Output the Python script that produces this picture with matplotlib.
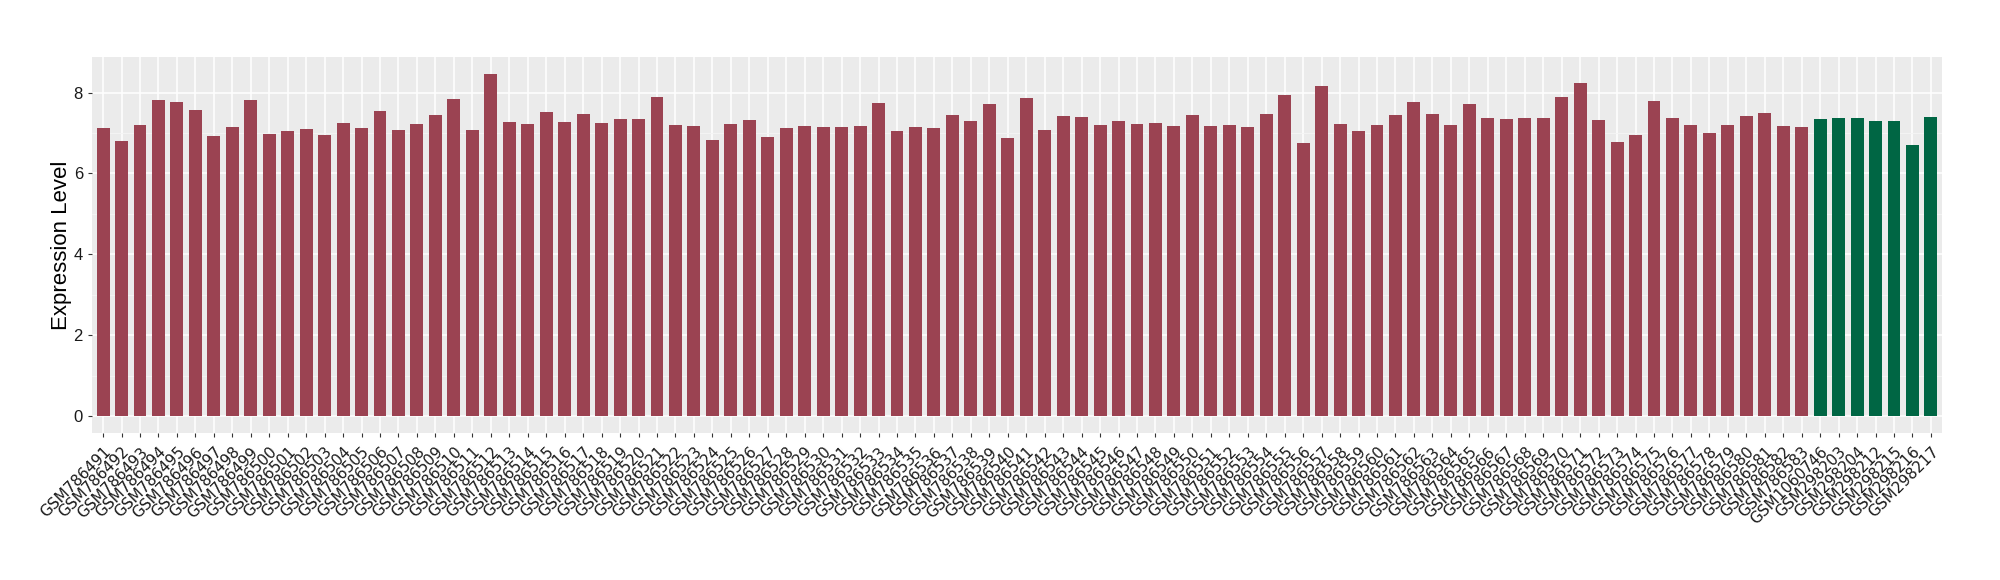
import matplotlib
matplotlib.use("Agg")
import matplotlib.pyplot as plt
import numpy as np

# %% data
group_a = [f"GSM786{n}" for n in range(491, 584)]
group_b = ["GSM1060746", "GSM298203", "GSM298204", "GSM298212",
           "GSM298215", "GSM298216", "GSM298217"]

values_a = [7.13, 6.80, 7.20, 7.82, 7.77, 7.57, 6.93, 7.15, 7.82, 6.98,
            7.05, 7.10, 6.95, 7.25, 7.13, 7.55, 7.08, 7.22, 7.45, 7.84,
            7.08, 8.46, 7.27, 7.22, 7.52, 7.27, 7.47, 7.25, 7.35, 7.35,
            7.89, 7.20, 7.18, 6.83, 7.22, 7.32, 6.90, 7.13, 7.18, 7.15,
            7.15, 7.18, 7.74, 7.05, 7.15, 7.13, 7.45, 7.30, 7.72, 6.88,
            7.87, 7.08, 7.42, 7.40, 7.20, 7.30, 7.22, 7.25, 7.18, 7.45,
            7.18, 7.20, 7.15, 7.47, 7.94, 6.75, 8.16, 7.22, 7.05, 7.20,
            7.45, 7.77, 7.47, 7.20, 7.72, 7.37, 7.35, 7.37, 7.37, 7.89,
            8.24, 7.32, 6.78, 6.95, 7.79, 7.37, 7.20, 7.00, 7.20, 7.42,
            7.50, 7.18, 7.15]
values_b = [7.35, 7.37, 7.37, 7.30, 7.30, 6.71, 7.40]

color_a = "#9B4352"
color_b = "#006644"

labels = group_a + group_b
values = values_a + values_b
colors = [color_a] * len(values_a) + [color_b] * len(values_b)
x = np.arange(len(labels))

# %% figure, ggplot-grey look
fig = plt.figure(figsize=(20, 5.8), dpi=100)
ax = fig.add_axes([0.046, 0.253, 0.925, 0.649])
ax.set_facecolor("#EBEBEB")
for s in ax.spines.values():
    s.set_visible(False)

ax.bar(x, values, width=0.7, color=colors, zorder=3)

ax.set_xlim(-0.6, len(labels) - 0.4)
top = max(values) * 1.05
ax.set_ylim(-0.05 * max(values), top)

ax.set_yticks([0, 2, 4, 6, 8])
ax.set_yticks([1, 3, 5, 7], minor=True)
ax.set_xticks(x)
ax.set_xticklabels(labels, rotation=45, ha="right", rotation_mode="anchor",
                   fontsize=11, family="DejaVu Sans")
ax.grid(which="major", color="white", linewidth=1.1, zorder=0)
ax.grid(which="minor", axis="y", color="#F5F5F5", linewidth=0.6, zorder=0)
ax.tick_params(axis="both", which="major", color="#333333", length=3,
               width=0.8, labelcolor="#1A1A1A")
ax.tick_params(axis="x", pad=5)
ax.tick_params(axis="y", which="minor", length=0)
ax.tick_params(axis="y", labelsize=12)
for t in ax.get_yticklabels():
    t.set_family("Liberation Sans")

ax.set_ylabel("Expression Level", fontsize=16, family="Liberation Sans",
              labelpad=1)

fig.savefig("out.png", dpi=100)
